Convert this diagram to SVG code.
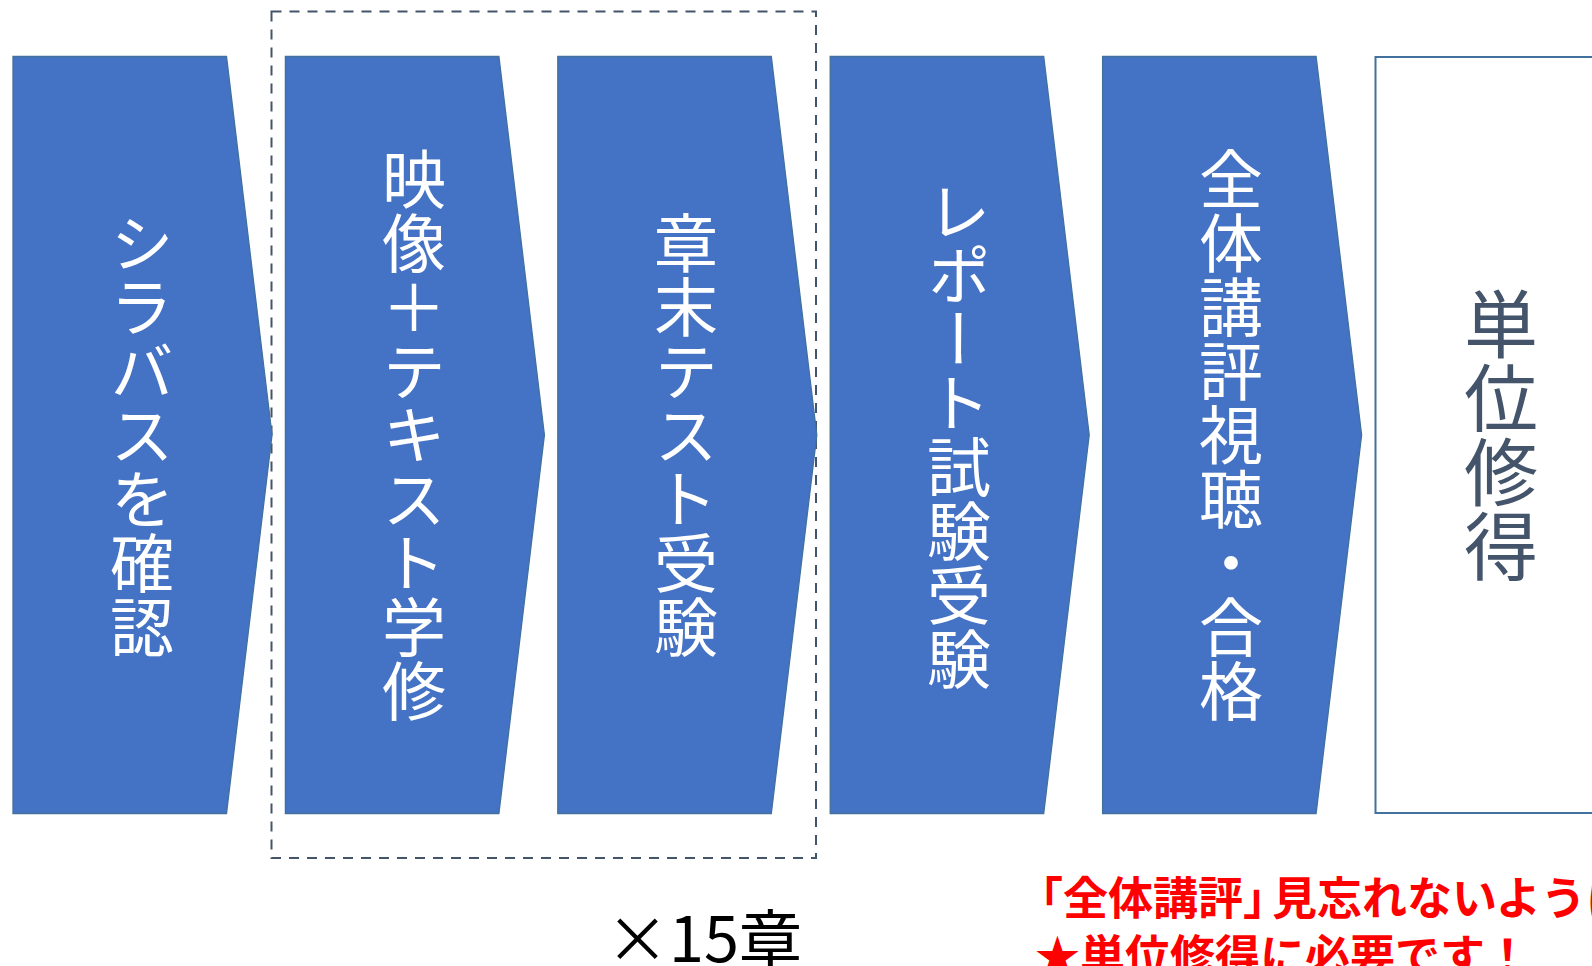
<svg xmlns="http://www.w3.org/2000/svg" width="1592" height="966" viewBox="0 0 1592 966">
<style>
.step{fill:#4472C4;stroke:#41719C;stroke-width:1.3}
.box{fill:#FFFFFF;stroke:#41719C;stroke-width:2}
.vt{font-family:"Noto Sans CJK JP","Noto Sans",sans-serif;writing-mode:vertical-rl;text-anchor:middle;font-size:64px;fill:#FFFFFF}
.vt2{font-family:"Noto Sans CJK JP","Noto Sans",sans-serif;writing-mode:vertical-rl;text-anchor:middle;font-size:74px;fill:#44546A}
.red{font-family:"Noto Sans CJK JP","Noto Sans",sans-serif;font-weight:bold;font-size:45px;fill:#FF0000}
.cnt{font-family:"Noto Sans CJK JP","Noto Sans",sans-serif;font-size:63px;fill:#000000}
</style>
<rect width="1592" height="966" fill="#FFFFFF"/>
<g id="connectors">
<rect id="loop" x="271.5" y="11.5" width="544.5" height="846.5" fill="none" stroke="#44546A" stroke-width="2" stroke-dasharray="10,8"/>
</g>
<g id="n1">
<polygon class="step" points="13,56.5 226.5,56.5 272,435 226.5,813.5 13,813.5"/>
<text class="vt" x="142" y="435">シラバスを確認</text>
</g>
<g id="n2">
<polygon class="step" points="285.4,56.5 498.9,56.5 544.4,435 498.9,813.5 285.4,813.5"/>
<text class="vt" x="414" y="435">映像＋テキスト学修</text>
</g>
<g id="n3">
<polygon class="step" points="557.8,56.5 771.3,56.5 816.8,435 771.3,813.5 557.8,813.5"/>
<text class="vt" x="686" y="435">章末テスト受験</text>
</g>
<g id="n4">
<polygon class="step" points="830.2,56.5 1043.7,56.5 1089.2,435 1043.7,813.5 830.2,813.5"/>
<text class="vt" x="959" y="435">レポート試験受験</text>
</g>
<g id="n5">
<polygon class="step" points="1102.6,56.5 1316.1,56.5 1361.6,435 1316.1,813.5 1102.6,813.5"/>
<text class="vt" x="1231" y="435">全体講評視聴・合格</text>
</g>
<g id="n6">
<rect class="box" x="1375.5" y="57" width="260" height="756"/>
<text class="vt2" x="1501" y="435">単位修得</text>
</g>
<g id="labels">
<text class="cnt" x="606" y="962">×15章</text>
<text class="red" x="1018" y="915">「全体講評」<tspan dx="-16">見忘れないように</tspan></text>
<text class="red" x="1035" y="973">★単位修得に必要です！</text>
</g>
</svg>
